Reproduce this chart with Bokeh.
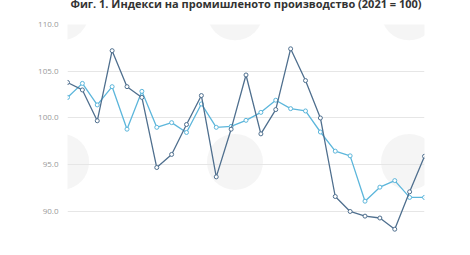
from bokeh.plotting import figure
from bokeh.models import Range1d, FixedTicker, ColumnDataSource, CustomJSTickFormatter
from bokeh.embed import file_html
from bokeh.resources import INLINE

title_text = "Фиг. 1. Индекси на промишленото производство (2021 = 100)"
months = list(range(25))
series_dark = [103.8, 103.0, 99.7, 107.2, 103.35, 102.2, 94.7, 96.1, 99.3, 102.4,
               93.7, 98.8, 104.6, 98.3, 100.9, 107.4, 104.0, 100.0, 91.6, 90.0,
               89.5, 89.3, 88.1, 92.1, 95.9]
series_light = [102.2, 103.7, 101.4, 103.35, 98.8, 102.85, 99.0, 99.5, 98.45, 101.5,
                99.0, 99.1, 99.75, 100.6, 101.9, 101.0, 100.75, 98.5, 96.45, 95.95,
                91.1, 92.6, 93.3, 91.5, 91.5]
y_ticks = [90, 95, 100, 105, 110]

DARK = "#4f6f8e"
LIGHT = "#5cb6db"
SHIFT = 24

p = figure(width=470, height=255 + SHIFT, output_backend="svg", toolbar_location=None,
           x_range=Range1d(0, 24), y_range=Range1d(87, 110),
           min_border_left=67, min_border_right=46, min_border_top=24 + SHIFT,
           min_border_bottom=16)
p.styles = {"margin-top": f"-{SHIFT}px"}
p.title.text = title_text
p.title.align = "center"
p.title.text_font = "Open Sans"
p.title.text_font_size = "11px"
p.title.text_font_style = "bold"
p.title.text_color = "#333333"
p.title.standoff = 27

p.outline_line_color = None
p.xaxis.visible = False
p.xgrid.visible = False
p.ygrid.grid_line_color = "#e6e6e6"
p.ygrid.grid_line_width = 1
p.yaxis.ticker = FixedTicker(ticks=y_ticks)
p.yaxis.formatter = CustomJSTickFormatter(code="return tick.toFixed(1);")
p.yaxis.axis_line_color = None
p.yaxis.major_tick_line_color = None
p.yaxis.minor_tick_line_color = None
p.yaxis.major_label_text_font = "Open Sans"
p.yaxis.major_label_text_font_size = "8px"
p.yaxis.major_label_text_color = "#999999"
p.yaxis.major_label_standoff = 3

# faint watermark discs (decoration)
wm = ColumnDataSource(dict(x=[-0.43, 11.26, 22.96, -0.43, 11.26, 22.96],
                           y=[111.3, 111.3, 111.3, 95.3, 95.3, 95.3]))
p.scatter("x", "y", source=wm, size=56, fill_color="#f3f3f3", line_color=None,
          fill_alpha=0.8, level="underlay")

for data, col in ((series_light, LIGHT), (series_dark, DARK)):
    src = ColumnDataSource(dict(x=months, y=data))
    p.line("x", "y", source=src, line_color=col, line_width=1.3)
    p.scatter("x", "y", source=src, size=4, fill_color="white",
              line_color=col, line_width=1)

open("out.html", "w").write(file_html(p, INLINE))
